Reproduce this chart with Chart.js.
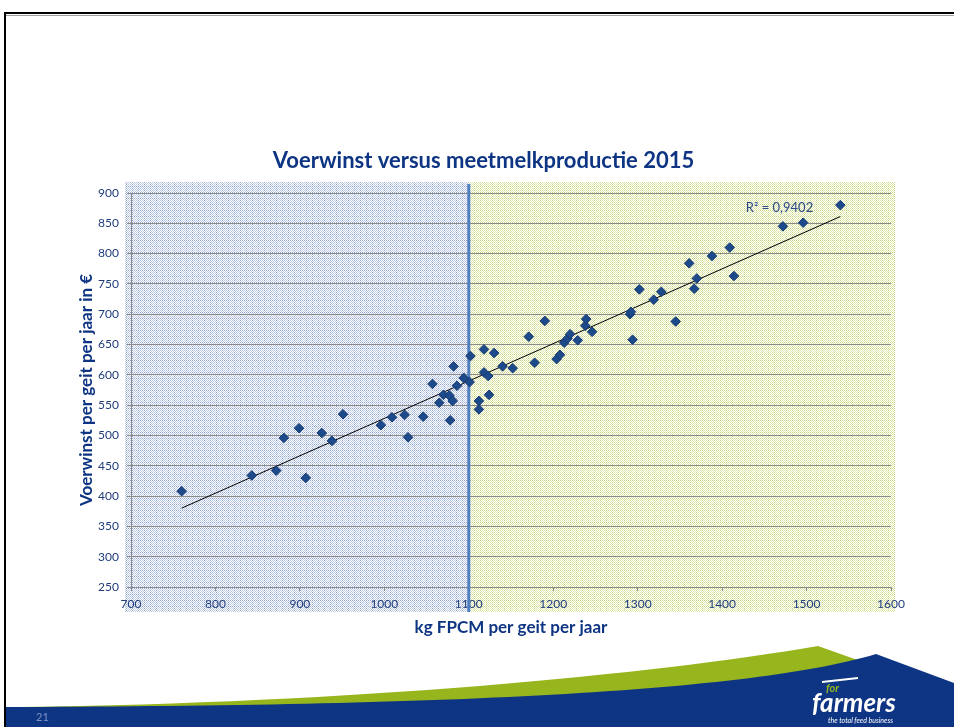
<!DOCTYPE html>
<html>
<head>
<meta charset="utf-8">
<script src="https://cdn.jsdelivr.net/npm/chart.js@4.4.1/dist/chart.umd.min.js"></script>
<style>
  html, body { margin: 0; padding: 0; background: #fff; }
  canvas { display: block; }
</style>
</head>
<body>
<canvas id="chart" width="954" height="727"></canvas>
<script>
// kg FPCM per geit per jaar (x) and voerwinst per geit per jaar in euro (y)
const milkKg = [
  760, 843, 872, 881, 899, 907, 926, 938, 951, 996, 1009, 1024, 1028, 1046,
  1057, 1065, 1070, 1077, 1078, 1081, 1082, 1086, 1094, 1101,
  1102, 1112, 1112, 1118, 1118, 1123, 1124, 1130, 1140, 1152, 1171, 1178,
  1190, 1204, 1208, 1213, 1217, 1220, 1229, 1238, 1239, 1246, 1291, 1292,
  1294, 1302, 1319, 1328, 1345, 1361, 1367, 1370, 1388, 1409, 1414, 1472,
  1496, 1540,
]
const feedProfit = [
  408, 434, 442, 496, 512, 430, 504, 491, 535, 517, 530, 534, 497, 531,
  585, 554, 567, 566, 525, 557, 614, 582, 595, 588,
  631, 557, 543, 642, 604, 598, 567, 636, 614, 611, 663, 620,
  689, 626, 633, 653, 660, 667, 657, 681, 692, 671, 700, 704,
  658, 741, 724, 737, 688, 784, 742, 759, 796, 810, 763, 845,
  851, 880,
]
const xTicks = [700, 800, 900, 1000, 1100, 1200, 1300, 1400, 1500, 1600]
const yTicks = [250, 300, 350, 400, 450, 500, 550, 600, 650, 700, 750, 800, 850, 900]
const splitAt = 1100
const r2Text = 'R² = 0,9402'

const NAVY = '#0e3583'
const GRID = '#8a8a8a'

const points = milkKg.map((x, i) => ({ x, y: feedProfit[i] }))

// linear trendline (least squares), like Excel does
function trendline(xs, ys) {
  const n = xs.length
  const mx = xs.reduce((a, b) => a + b, 0) / n
  const my = ys.reduce((a, b) => a + b, 0) / n
  let sxy = 0, sxx = 0
  xs.forEach((x, i) => {
    sxy += (x - mx) * (ys[i] - my)
    sxx += (x - mx) * (x - mx)
  })
  const b = sxy / sxx
  const a = my - b * mx
  const x0 = Math.min(...xs)
  const x1 = Math.max(...xs)
  return [{ x: x0, y: a + b * x0 }, { x: x1, y: a + b * x1 }]
}

function makePattern(ctx, base, line) {
  const c = document.createElement('canvas')
  c.width = 6
  c.height = 6
  const g = c.getContext('2d')
  g.fillStyle = '#fff'
  g.fillRect(0, 0, 6, 6)
  g.fillStyle = base
  for (let y = 0; y < 6; y++) {
    for (let x = 0; x < 6; x++) {
      if ((x + y) % 2 === 0) g.fillRect(x, y, 1, 1)
    }
  }
  g.fillStyle = line
  for (let i = 0; i < 6; i += 2) {
    g.fillRect(i, 0, 1, 1)
    g.fillRect(0, i, 1, 1)
  }
  return ctx.createPattern(c, 'repeat')
}

// slide frame, shaded areas, split line, R² label and footer
const slidePlugin = {
  id: 'slide',
  beforeDraw(chart) {
    const { ctx, chartArea: a, scales: { x } } = chart
    const xs = x.getPixelForValue(splitAt)
    ctx.save()
    ctx.fillStyle = '#fff'
    ctx.fillRect(0, 0, chart.width, chart.height)

    // frame
    ctx.strokeStyle = '#000'
    ctx.lineWidth = 2
    ctx.beginPath()
    ctx.moveTo(5, 727)
    ctx.lineTo(5, 13)
    ctx.lineTo(954, 13)
    ctx.stroke()
    ctx.strokeStyle = '#a0a0a0'
    ctx.lineWidth = 1
    ctx.beginPath()
    ctx.moveTo(6, 15.5)
    ctx.lineTo(954, 15.5)
    ctx.stroke()

    // shaded areas left / right of 1100
    const top = a.top - 11
    const bottom = a.bottom + 25
    ctx.fillStyle = makePattern(ctx, '#bfcae3', '#8ea3cf')
    ctx.fillRect(a.left - 6, top, xs - (a.left - 6), bottom - top)
    ctx.fillStyle = makePattern(ctx, '#e0e8b0', '#c3d27e')
    ctx.fillRect(xs, top, a.right + 4 - xs, bottom - top)
    ctx.restore()
  },
  beforeDatasetsDraw(chart) {
    const { ctx, chartArea: a, scales: { x } } = chart
    const xs = x.getPixelForValue(splitAt)
    ctx.save()
    ctx.strokeStyle = '#4f7fc0'
    ctx.lineWidth = 3
    ctx.beginPath()
    ctx.moveTo(xs, a.top - 9)
    ctx.lineTo(xs, a.bottom + 25)
    ctx.stroke()
    ctx.restore()
  },
  afterDraw(chart) {
    const { ctx, scales: { x, y } } = chart
    ctx.save()
    // R² label
    ctx.fillStyle = '#2c4a86'
    ctx.font = '13px Lato'
    ctx.textAlign = 'center'
    ctx.textBaseline = 'middle'
    ctx.fillText(r2Text, x.getPixelForValue(1468), y.getPixelForValue(876))

    // footer swoosh
    ctx.fillStyle = '#97b51d'
    ctx.beginPath()
    ctx.moveTo(20, 707)
    ctx.bezierCurveTo(350, 703, 650, 675, 818, 646)
    ctx.lineTo(880, 668)
    ctx.lineTo(880, 720)
    ctx.lineTo(20, 720)
    ctx.closePath()
    ctx.fill()

    ctx.fillStyle = NAVY
    ctx.beginPath()
    ctx.moveTo(6, 707)
    ctx.bezierCurveTo(400, 706, 740, 695, 876, 654)
    ctx.lineTo(954, 683)
    ctx.lineTo(954, 727)
    ctx.lineTo(6, 727)
    ctx.closePath()
    ctx.fill()

    // page number
    ctx.fillStyle = '#7f93c4'
    ctx.font = '11px Lato'
    ctx.textAlign = 'left'
    ctx.fillText('21', 36, 717)

    // logo
    ctx.fillStyle = '#97b51d'
    ctx.font = 'italic bold 11px Lato'
    ctx.fillText('for', 826, 688)
    ctx.strokeStyle = '#fff'
    ctx.lineWidth = 2
    ctx.beginPath()
    ctx.moveTo(822, 682)
    ctx.lineTo(858, 678)
    ctx.stroke()
    ctx.fillStyle = '#fff'
    ctx.font = 'italic bold 26px Lato'
    ctx.fillText('farmers', 812, 704)
    ctx.font = 'italic 7px Lato'
    ctx.fillText('the total feed business', 828, 721)
    ctx.restore()
  },
}

new Chart(document.getElementById('chart'), {
  type: 'scatter',
  data: {
    datasets: [
      {
        data: points,
        pointStyle: 'rectRot',
        pointRadius: 4.8,
        pointHoverRadius: 4.8,
        backgroundColor: '#1d4a8a',
        borderColor: '#163a70',
        borderWidth: 1,
      },
      {
        data: trendline(milkKg, feedProfit),
        showLine: true,
        borderColor: '#000',
        borderWidth: 1,
        pointRadius: 0,
        pointHoverRadius: 0,
      },
    ],
  },
  options: {
    animation: false,
    responsive: false,
    events: [],
    layout: { padding: { top: 140, left: 76, right: 63, bottom: 89 } },
    plugins: {
      legend: { display: false },
      tooltip: { enabled: false },
      title: {
        display: true,
        text: 'Voerwinst versus meetmelkproductie 2015',
        color: NAVY,
        font: { family: 'Lato', size: 22, weight: 'bold' },
        padding: { top: 8, bottom: 18.6 },
      },
    },
    scales: {
      x: {
        type: 'linear',
        min: 700,
        max: 1600,
        afterFit: (s) => { s.height = 51 },
        afterBuildTicks: (s) => { s.ticks = xTicks.map((v) => ({ value: v })) },
        grid: { drawOnChartArea: false, tickLength: 4, color: GRID },
        border: { color: GRID, width: 1 },
        ticks: {
          padding: 6,
          color: '#1f3d7a',
          font: { family: 'Lato', size: 12 },
          callback: (v) => String(v),
          maxRotation: 0,
        },
        title: {
          display: true,
          text: 'kg FPCM per geit per jaar',
          color: NAVY,
          font: { family: 'Lato', size: 17, weight: 'bold' },
          padding: { top: 0, bottom: 0 },
        },
      },
      y: {
        type: 'linear',
        min: 250,
        max: 900,
        afterFit: (s) => { s.width = 55 },
        afterBuildTicks: (s) => { s.ticks = yTicks.map((v) => ({ value: v })) },
        grid: { color: GRID, tickLength: 4, lineWidth: 1 },
        border: { color: GRID, width: 1 },
        ticks: {
          padding: 8,
          color: '#1f3d7a',
          font: { family: 'Lato', size: 12 },
          callback: (v) => String(v),
        },
        title: {
          display: true,
          text: 'Voerwinst per geit per jaar in €',
          color: NAVY,
          font: { family: 'Lato', size: 17, weight: 'bold' },
          padding: { top: 0, bottom: 0 },
        },
      },
    },
  },
  plugins: [slidePlugin],
})
</script>
</body>
</html>
